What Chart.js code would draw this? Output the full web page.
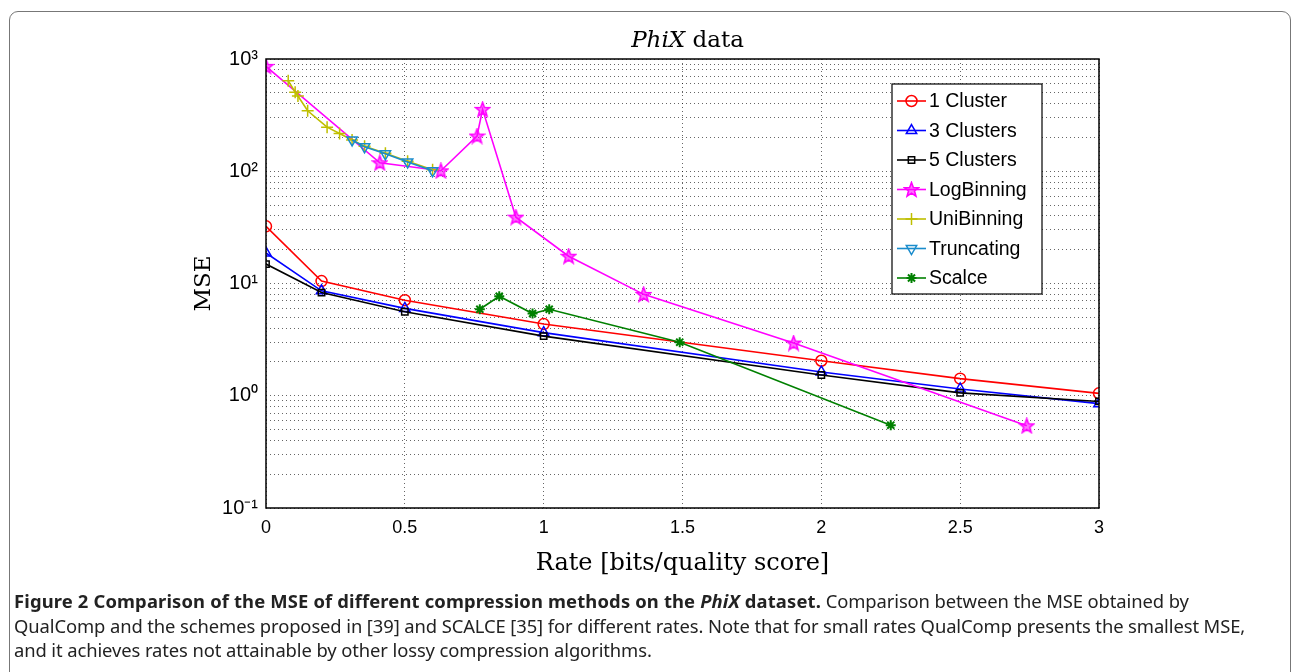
<!DOCTYPE html>
<html>
<head>
<meta charset="utf-8">
<script src="https://cdn.jsdelivr.net/npm/chart.js@4.4.1/dist/chart.umd.min.js"></script>
<style>
  html, body { margin: 0; padding: 0; background: #fff; }
  #wrap { position: relative; width: 1295px; height: 672px; overflow: hidden; }
  #frame { position: absolute; left: 9px; top: 11px; width: 1282px; height: 700px;
           border: 1.5px solid #777; border-radius: 9px; box-sizing: border-box; }
  #chart { position: absolute; left: 0; top: 0; }
  #title { position: absolute; left: 0; width: 1375px; top: 26px; text-align: center;
           font-family: "DejaVu Serif", serif; font-size: 23px; color: #000; }
  #caption { position: absolute; left: 14px; top: 589px; width: 1275px;
             font-family: "Noto Sans", sans-serif; font-size: 18.4px; line-height: 24.5px; color: #222;
             letter-spacing: -0.1px; }
  #caption div { white-space: nowrap; }
  #caption b { letter-spacing: 0.15px; }
</style>
</head>
<body>
<div id="wrap">
  <div id="frame"></div>
  <canvas id="chart" width="1295" height="672"></canvas>
  <div id="title"><i>PhiX</i> data</div>
  <div id="caption">
    <div><b>Figure 2 Comparison of the MSE of different compression methods on the <i>PhiX</i> dataset.</b> Comparison between the MSE obtained by</div>
    <div>QualComp and the schemes proposed in [39] and SCALCE [35] for different rates. Note that for small rates QualComp presents the smallest MSE,</div>
    <div>and it achieves rates not attainable by other lossy compression algorithms.</div>
  </div>
</div>
<script>
// MSE vs rate, PhiX data

const clusterRates = [0, 0.2, 0.5, 1, 2, 2.5, 3];
const mse1Cluster = [32.3, 10.5, 7.1, 4.35, 2.05, 1.42, 1.05];
const mse3Clusters = [18.7, 8.6, 6.0, 3.65, 1.63, 1.15, 0.85];
const mse5Clusters = [14.9, 8.3, 5.6, 3.4, 1.53, 1.06, 0.89];

const logRates = [0, 0.41, 0.63, 0.76, 0.78, 0.90, 1.09, 1.36, 1.90, 2.74];
const logMse = [860, 119, 101, 206, 356, 39, 17.5, 8.0, 2.95, 0.54];

const uniRates = [0.08, 0.105, 0.115, 0.15, 0.22, 0.265, 0.31, 0.355, 0.43, 0.51, 0.6];
const uniMse = [640, 506, 468, 346, 247, 217, 190, 167, 145, 123, 103];

const truncRates = [0.31, 0.355, 0.43, 0.51, 0.6];
const truncMse = [190, 165, 143, 121, 101];

const scalceRates = [0.77, 0.84, 0.96, 1.02, 1.49, 2.25];
const scalceMse = [5.9, 7.7, 5.4, 5.9, 3.0, 0.547];

const xTicks = [0, 0.5, 1, 1.5, 2, 2.5, 3];
const decades = [0.1, 1, 10, 100, 1000];
const decadeLabels = ["10\u207B\u00B9", "10\u2070", "10\u00B9", "10\u00B2", "10\u00B3"];

function pairs(xs, ys) {
  return xs.map(function(x, i) { return { x: x, y: ys[i] }; });
}

// matlab style pentagram marker
function pentagram(color, size) {
  var c = document.createElement("canvas");
  c.width = size; c.height = size;
  var g = c.getContext("2d");
  var cx = size / 2, cy = size / 2 + 0.5, ro = size / 2 - 1, ri = ro * 0.42;
  g.beginPath();
  for (var i = 0; i < 10; i++) {
    var r = i % 2 === 0 ? ro : ri;
    var a = -Math.PI / 2 + i * Math.PI / 5;
    var px = cx + r * Math.cos(a), py = cy + r * Math.sin(a);
    if (i === 0) g.moveTo(px, py); else g.lineTo(px, py);
  }
  g.closePath();
  g.fillStyle = "rgba(255,0,255,0.55)";
  g.fill();
  g.strokeStyle = color;
  g.lineWidth = 1.6;
  g.stroke();
  return c;
}

var starImg = pentagram("#ff00ff", 17);

function series(label, xs, ys, color, style, radius, rotation, pw) {
  return {
    label: label,
    data: pairs(xs, ys),
    borderColor: color,
    backgroundColor: "rgba(0,0,0,0)",
    borderWidth: 1.6,
    pointStyle: style,
    pointRadius: radius,
    pointRotation: rotation || 0,
    pointBorderColor: color,
    pointBackgroundColor: "rgba(0,0,0,0)",
    pointBorderWidth: pw || 1.5,
    tension: 0
  };
}

var datasets = [
  series("1 Cluster", clusterRates, mse1Cluster, "#ff0000", "circle", 5.5),
  series("3 Clusters", clusterRates, mse3Clusters, "#0000ff", "triangle", 6),
  series("5 Clusters", clusterRates, mse5Clusters, "#000000", "rect", 4.5),
  series("LogBinning", logRates, logMse, "#ff00ff", starImg, 7),
  series("UniBinning", uniRates, uniMse, "#bfbf00", "cross", 6),
  series("Truncating", truncRates, truncMse, "#1a8ccc", "triangle", 6, 180),
  series("Scalce", scalceRates, scalceMse, "#008000", "star", 5, 0, 2)
];
// later series on top, like matlab
datasets.forEach(function(d, i) { d.order = datasets.length - i; });

var yTicks = [];
decades.forEach(function(d, i) {
  if (i === decades.length - 1) { yTicks.push(d); return; }
  for (var k = 1; k <= 9; k++) yTicks.push(Math.round(d * k * 1000) / 1000);
});

function drawMarker(ctx, ds, x, y) {
  var opts = {
    pointStyle: ds.pointStyle, radius: ds.pointRadius, rotation: ds.pointRotation,
    borderWidth: ds.pointBorderWidth
  };
  ctx.save();
  ctx.strokeStyle = ds.borderColor;
  ctx.fillStyle = "rgba(0,0,0,0)";
  ctx.lineWidth = ds.pointBorderWidth;
  if (Chart.helpers && Chart.helpers.drawPoint) {
    Chart.helpers.drawPoint(ctx, opts, x, y);
  } else {
    ctx.beginPath(); ctx.arc(x, y, ds.pointRadius, 0, Math.PI * 2); ctx.stroke();
  }
  ctx.restore();
}

var frameAndLegend = {
  id: "frameAndLegend",
  afterDatasetsDraw: function(chart) {
    var ctx = chart.ctx, a = chart.chartArea;
    ctx.save();
    ctx.strokeStyle = "#000";
    ctx.lineWidth = 1.5;
    ctx.strokeRect(a.left, a.top, a.right - a.left, a.bottom - a.top);

    // legend box
    var bx = 892, by = 84, bw = 150, bh = 210, rowH = 29.5;
    ctx.fillStyle = "#fff";
    ctx.fillRect(bx, by, bw, bh);
    ctx.lineWidth = 1.2;
    ctx.strokeRect(bx, by, bw, bh);
    ctx.font = "19.5px 'Liberation Sans', Arial, sans-serif";
    ctx.textBaseline = "middle";
    chart.data.datasets.forEach(function(ds, i) {
      var y = by + 17 + i * rowH;
      ctx.strokeStyle = ds.borderColor;
      ctx.lineWidth = 1.6;
      ctx.beginPath(); ctx.moveTo(897, y); ctx.lineTo(926, y); ctx.stroke();
      drawMarker(ctx, ds, 911.5, y);
      ctx.fillStyle = "#000";
      ctx.fillText(ds.label, 929, y + 1);
    });
    ctx.restore();
  }
};

new Chart(document.getElementById("chart"), {
  type: "line",
  data: { datasets: datasets },
  options: {
    responsive: false,
    animation: false,
    layout: { padding: { left: 190, right: 196, top: 59, bottom: 94 } },
    plugins: { legend: { display: false }, tooltip: { enabled: false }, title: { display: false } },
    scales: {
      x: {
        type: "linear", min: 0, max: 3,
        afterBuildTicks: function(s) { s.ticks = xTicks.map(function(v) { return { value: v }; }); },
        afterFit: function(s) { s.height = 70; },
        grid: { color: "rgba(0,0,0,0.6)", drawTicks: false, lineWidth: 1 },
        border: { display: false, dash: [1, 3] },
        ticks: { padding: 9, color: "#000", font: { family: "'Liberation Sans', Arial", size: 18 },
                 callback: function(v) { return String(v); }, maxRotation: 0 },
        title: { display: true, text: "Rate [bits/quality score]", color: "#000",
                 font: { family: "'DejaVu Serif', serif", size: 24 }, padding: { top: 0, bottom: 0 } }
      },
      y: {
        type: "logarithmic", min: 0.1, max: 1000,
        afterBuildTicks: function(s) { s.ticks = yTicks.map(function(v) { return { value: v }; }); },
        afterFit: function(s) { s.width = 76; },
        grid: { color: "rgba(0,0,0,0.6)", drawTicks: false, lineWidth: 1 },
        border: { display: false, dash: [1, 3] },
        ticks: { padding: 8, color: "#000", font: { family: "'Liberation Sans', Arial", size: 20 },
                 autoSkip: false,
                 callback: function(v) {
                   var k = decades.indexOf(v);
                   return k >= 0 ? decadeLabels[k] : "";
                 } },
        title: { display: true, text: "MSE", color: "#000",
                 font: { family: "'DejaVu Serif', serif", size: 23 }, padding: { top: 0, bottom: 0 } }
      }
    }
  },
  plugins: [frameAndLegend]
});
</script>
</body>
</html>
